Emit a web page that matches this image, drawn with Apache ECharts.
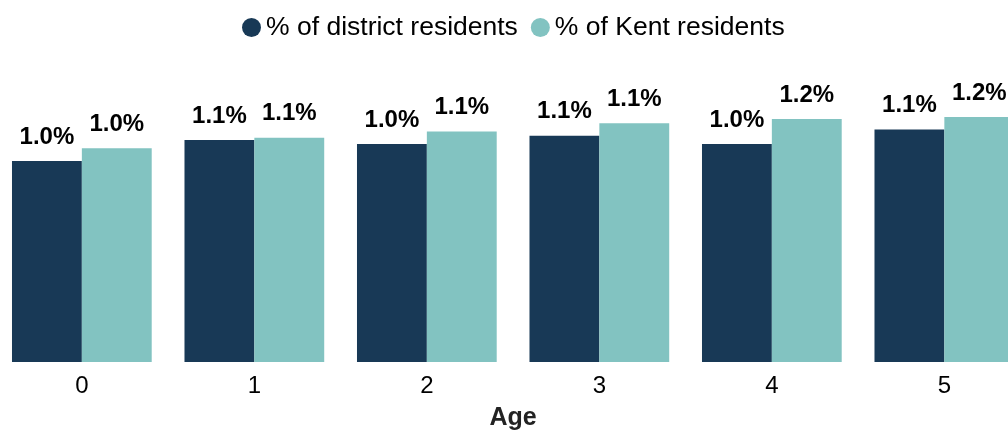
<!DOCTYPE html>
<html>
<head>
<meta charset="utf-8">
<script src="https://cdn.jsdelivr.net/npm/echarts@6/dist/echarts.min.js"></script>
<style>
html,body{margin:0;padding:0;background:#fff;}
#chart{width:1008px;height:433px;}
</style>
</head>
<body>
<div id="chart"></div>
<script>
const categories = ['0', '1', '2', '3', '4', '5'];
const districtValues = [0.96, 1.06, 1.04, 1.08, 1.04, 1.11];
const kentValues = [1.02, 1.07, 1.10, 1.14, 1.16, 1.17];
const seriesNames = ['% of district residents', '% of Kent residents'];
const axisName = 'Age';

const FONT = '"Liberation Sans", Arial, sans-serif';
const chart = echarts.init(document.getElementById('chart'), null, {renderer: 'canvas'});
const labelCfg = {
  show: true,
  position: 'top',
  distance: 12,
  color: '#000',
  fontFamily: FONT,
  fontWeight: 'bold',
  fontSize: 24,
  formatter: p => p.value.toFixed(1) + '%'
};
chart.setOption({
  animation: false,
  backgroundColor: '#fff',
  legend: {
    top: 9,
    left: 237,
    icon: 'circle',
    itemWidth: 19,
    itemHeight: 19,
    itemGap: 13,
    textStyle: {fontFamily: FONT, fontSize: 26.5, color: '#000'},
    data: seriesNames
  },
  grid: {
    left: -4.4,
    right: -22.6,
    top: 68.7,
    bottom: 71,
    containLabel: false,
    outerBoundsMode: 'none'
  },
  xAxis: {
    type: 'category',
    data: categories,
    name: axisName,
    nameLocation: 'middle',
    nameGap: 44,
    nameTextStyle: {fontFamily: FONT, fontSize: 25, fontWeight: 'bold', color: '#222'},
    axisLine: {show: false},
    axisTick: {show: false},
    axisLabel: {fontFamily: FONT, fontSize: 24, color: '#000', margin: 12}
  },
  yAxis: {
    type: 'value',
    min: 0,
    max: 1.4,
    show: false,
    splitLine: {show: false}
  },
  series: [
    {
      name: seriesNames[0],
      type: 'bar',
      data: districtValues,
      barGap: '0%',
      barCategoryGap: '19%',
      itemStyle: {color: '#183956'},
      label: labelCfg
    },
    {
      name: seriesNames[1],
      type: 'bar',
      data: kentValues,
      barGap: '0%',
      barCategoryGap: '19%',
      itemStyle: {color: '#82C3C1'},
      label: labelCfg
    }
  ]
});
</script>
</body>
</html>
